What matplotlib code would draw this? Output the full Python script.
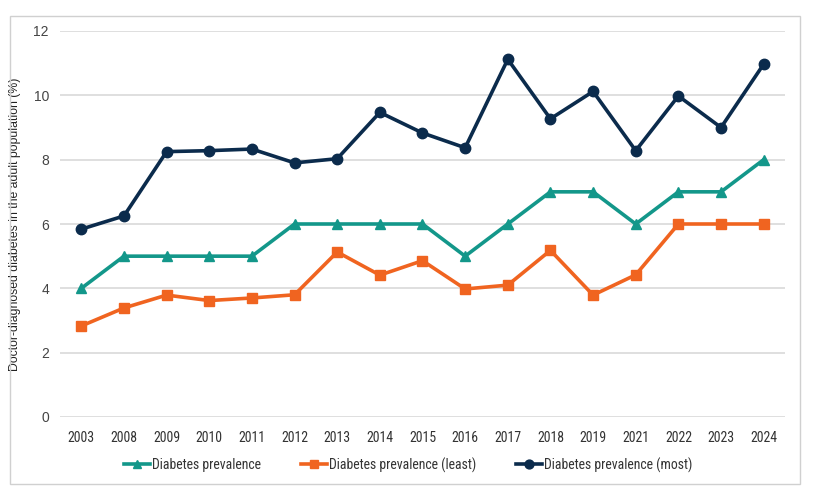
import matplotlib
matplotlib.use('agg')
import matplotlib.pyplot as plt
from matplotlib.patches import Rectangle
from matplotlib import font_manager
import numpy as np

years = ["2003", "2008", "2009", "2010", "2011", "2012", "2013", "2014", "2015",
         "2016", "2017", "2018", "2019", "2021", "2022", "2023", "2024"]
prevalence = [4, 5, 5, 5, 5, 6, 6, 6, 6, 5, 6, 7, 7, 6, 7, 7, 8]
prev_least = [2.83, 3.39, 3.79, 3.62, 3.7, 3.8, 5.13, 4.41, 4.86, 3.98, 4.1,
              5.18, 3.79, 4.42, 6.0, 6.0, 6.0]
prev_most = [5.84, 6.25, 8.25, 8.28, 8.33, 7.9, 8.03, 9.47, 8.83, 8.37, 11.12,
             9.27, 10.12, 8.28, 9.98, 9.0, 10.97]

teal = "#13978a"
orange = "#f06420"
navy = "#0b2b4c"

# pick a narrow font if one is installed
names = {f.name for f in font_manager.fontManager.ttflist}
narrow_fam = "DejaVu Sans"
for cand in ["Liberation Sans Narrow", "DejaVu Sans Condensed", "Roboto Condensed",
             "Open Sans Condensed", "Noto Sans Condensed"]:
    if cand in names:
        narrow_fam = cand
        break
narrow = font_manager.FontProperties(family=narrow_fam, stretch="condensed", size=10)
narrow_leg = font_manager.FontProperties(family=narrow_fam, stretch="condensed", size=9.9)

fig = plt.figure(figsize=(8.16, 4.96), dpi=100)
ax = fig.add_axes([60 / 816, 1 - 417 / 496, 725 / 816, 386 / 496])

x = np.arange(len(years))
ax.plot(x, prevalence, color=teal, lw=2.6, marker="^", ms=7.5,
        label="Diabetes prevalence")
ax.plot(x, prev_least, color=orange, lw=2.6, marker="s", ms=7.5,
        label="Diabetes prevalence (least)")
ax.plot(x, prev_most, color=navy, lw=2.6, marker="o", ms=7.5,
        label="Diabetes prevalence (most)")

ax.set_xlim(-0.5, len(years) - 0.5)
ax.set_ylim(0, 12)
ax.set_yticks(np.arange(0, 13, 2))
ax.set_xticks(x)
ax.set_xticklabels(years, fontproperties=narrow, color="#333333")
for lab in ax.get_yticklabels():
    lab.set_fontfamily(["Liberation Sans", "DejaVu Sans"])
    lab.set_fontsize(10)
    lab.set_color("#444444")
ax.tick_params(length=0, pad=8)
ax.tick_params(axis="x", pad=10)
ax.grid(axis="y", color="#d9d9d9", lw=1.2)
ax.set_axisbelow(True)
for s in ax.spines.values():
    s.set_visible(False)

ax.set_ylabel("Doctor-diagnosed diabetes in the adult population (%)",
              fontfamily=["Liberation Sans", "DejaVu Sans"], fontsize=8.8,
              color="#222222", labelpad=9)

leg = fig.legend(loc="center", bbox_to_anchor=(408 / 816, 1 - 465 / 496),
                 ncol=3, frameon=False, handlelength=1.9, handletextpad=0.15,
                 columnspacing=2.9, markerscale=0.85, prop=narrow_leg)
for t in leg.get_texts():
    t.set_color("#333333")

# light frame around the whole chart
fig.patches.append(Rectangle((9.5 / 816, 1 - 484 / 496), 790 / 816, 468 / 496,
                             transform=fig.transFigure, fill=False,
                             edgecolor="#d0d0d0", lw=1))

plt.savefig("out.png", dpi=100)
